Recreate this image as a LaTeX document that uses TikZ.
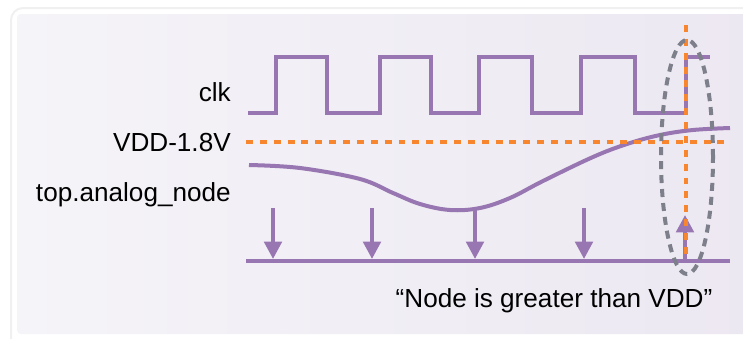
\documentclass[tikz,border=0pt]{standalone}
\usepackage{fontspec}
\setmainfont{Liberation Sans}
\usepackage{xcolor}
\usetikzlibrary{arrows.meta,positioning,shapes.geometric}
\definecolor{wavepurple}{RGB}{152,118,178}
\definecolor{vddorange}{RGB}{247,134,46}
\definecolor{ringgrey}{RGB}{125,128,138}
\definecolor{panellav}{RGB}{230,223,237}
\definecolor{panellight}{RGB}{245,244,248}

\begin{document}
\begin{tikzpicture}[x=0.75pt,y=-0.75pt,
    wave/.style={wavepurple, line width=3pt},
    vddline/.style={vddorange, line width=3pt, dash pattern=on 5.2pt off 5.2pt},
    samplearr/.style={wave, -{Triangle[width=13pt,length=13pt]}},
    markring/.style={ringgrey, line width=3pt, dash pattern=on 6pt off 4.5pt},
    lbl/.style={font=\fontsize{19.6}{23}\selectfont, inner sep=0pt, anchor=base east}
]
    \useasboundingbox (0,0) rectangle (743,339);
    % frame and panel
    \draw[black!6, line width=1.5pt, fill=white, rounded corners=9pt] (11,8) rectangle (770,360);
    \shade[rounded corners=3pt, left color=panellight, middle color=panellav,
        right color=panellav!60!panellight] (17,14) rectangle (770,334);

    % labels
    \node[lbl] (clk) at (231,101) {clk};
    \node[lbl] (vdd) at (231,151) {VDD-1.8V};
    \node[lbl] (anode) at (231,201) {top.analog\_node};

    % clock
    \draw[wave] (248,113) -- (276,113) -- (276,57) -- (327,57) -- (327,113)
        -- (380,113) -- (380,57) -- (431,57) -- (431,113)
        -- (479,113) -- (479,57) -- (532,57) -- (532,113)
        -- (581,113) -- (581,57) -- (635,57) -- (635,113)
        -- (686,113) -- (686,57) -- (710,57);

    % analog node
    \draw[wave] plot[smooth, tension=0.6] coordinates {(249,165) (300,168) (360,179) (393,193)
        (420,204) (450,210) (480,208) (510,198) (543,181) (593,157) (627,144)
        (660,135) (693,130) (730,128)};

    % sample points
    \coordinate (bl) at (246,261);
    \coordinate (br) at (730,261);
    \draw[wave] (bl) -- (br);
    \foreach \sx [count=\i] in {273,372,475,584} {
        \coordinate (samp\i) at (\sx,208);
        \coordinate (base\i) at (\sx,259);
        \draw[samplearr] (samp\i) -- (base\i);
    }
    \coordinate (upbot) at (685,261);
    \coordinate (uptop) at (685,215);
    \draw[samplearr] (upbot) -- (uptop);

    % VDD level and marker
    \coordinate (vddl) at (246,142);
    \coordinate (vddr) at (726,142);
    \draw[vddline] (vddl) -- (vddr);
    \coordinate (mktop) at (686,25);
    \coordinate (mkbot) at (686,260);
    \draw[vddline] (mktop) -- (mkbot);

    \node[markring, draw, ellipse, minimum width=52*0.75pt, minimum height=234*0.75pt,
        inner sep=0pt] (ring) at (687,157) {};

    \node[font=\fontsize{19.6}{23}\selectfont, inner sep=0pt, anchor=base] (note) at (554,307)
        {“Node is greater than VDD”};
\end{tikzpicture}
\end{document}
